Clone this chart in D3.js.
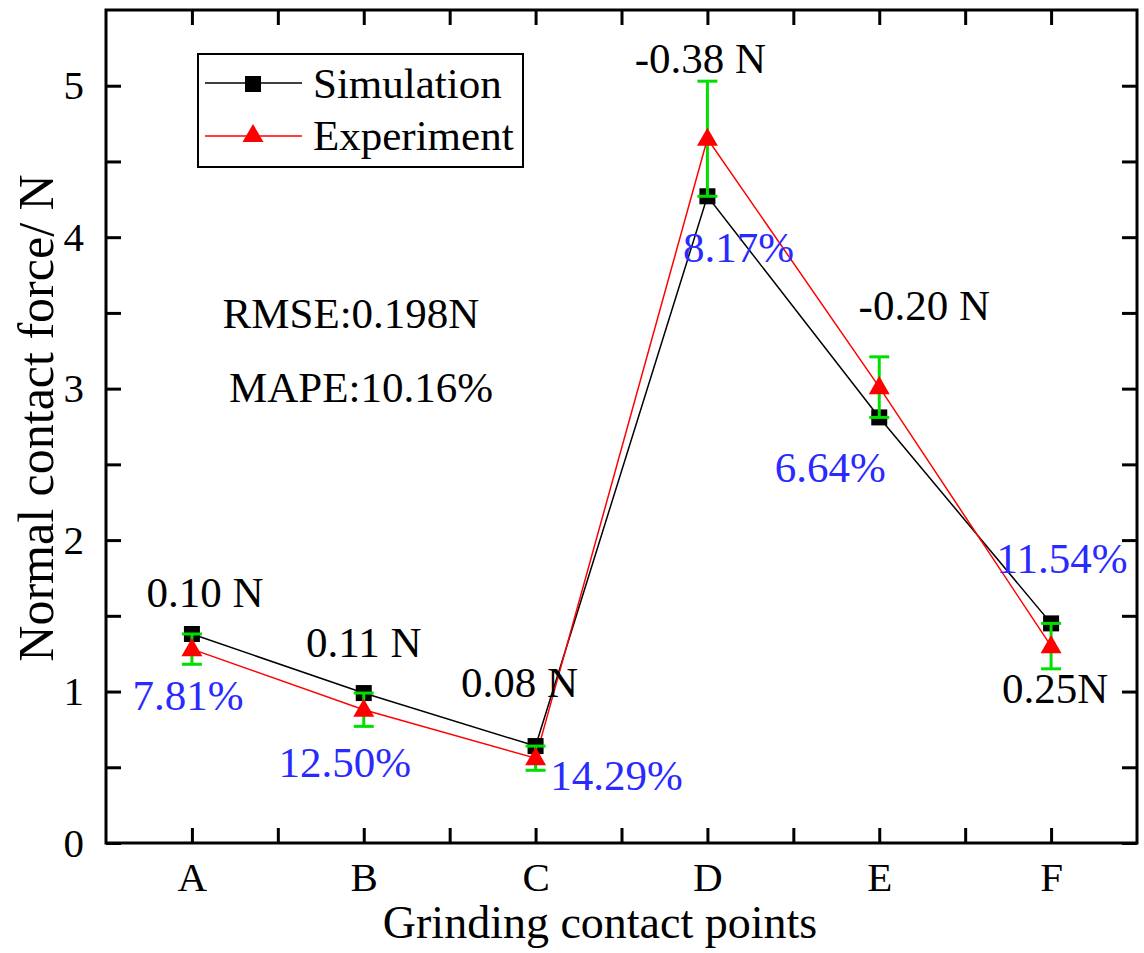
<!DOCTYPE html>
<html>
<head>
<meta charset="utf-8">
<script src="https://cdn.jsdelivr.net/npm/d3@7"></script>
<style>
  body { margin: 0; background: #fff; }
  svg text { font-family: "Liberation Serif", "Times New Roman", serif; }
</style>
</head>
<body>
<svg width="1144" height="953"></svg>
<script>
// data
let points = ["A", "B", "C", "D", "E", "F"];
let simulation = [1.38, 0.99, 0.64, 4.27, 2.81, 1.45];
let experiment = [1.28, 0.88, 0.56, 4.65, 3.01, 1.30];
let expError = [0.10, 0.11, 0.08, 0.38, 0.20, 0.15];
let diffLabels = ["0.10 N", "0.11 N", "0.08 N", "-0.38 N", "-0.20 N", "0.25N"];
let pctLabels = ["7.81%", "12.50%", "14.29%", "8.17%", "6.64%", "11.54%"];
let yTicks = [0, 1, 2, 3, 4, 5];
let yMinor = [0.5, 1.5, 2.5, 3.5, 4.5];

let plotL = 106, plotR = 1137, plotT = 10, plotB = 843;

let s = d3.select("svg");

let x = d3.scaleLinear().domain([-0.5, 5.5]).range([plotL, plotR]);
let y = d3.scaleLinear().domain([0, 5.5]).range([plotB, plotT]);

let xMajor = d3.range(points.length);
let xMinor = d3.range(points.length - 1).map(d => d + 0.5);

// axes, ticks point inward
let styleAxis = (g) => {
    g.select(".domain").remove();
    g.selectAll("line").attr("stroke", "#000").attr("stroke-width", 3);
    g.selectAll("text").attr("fill", "#000").style("font-size", "41px")
        .attr("font-family", null);
};

s.append("g").attr("transform", "translate(0," + plotB + ")")
    .call(d3.axisBottom(x).tickValues(xMajor.concat(xMinor)).tickSize(-15).tickPadding(19)
        .tickFormat(d => Number.isInteger(d) ? points[d] : ""))
    .call(styleAxis)
    .call(g => g.selectAll("text").attr("dy", "0.71em"));

s.append("g").attr("transform", "translate(0," + plotT + ")")
    .call(d3.axisTop(x).tickValues(xMajor.concat(xMinor)).tickSize(-15).tickFormat(""))
    .call(styleAxis);

s.append("g").attr("transform", "translate(" + plotL + ",0)")
    .call(d3.axisLeft(y).tickValues(yTicks.concat(yMinor)).tickSize(-15).tickPadding(22)
        .tickFormat(d => Number.isInteger(d) ? d : ""))
    .call(styleAxis);

s.append("g").attr("transform", "translate(" + plotR + ",0)")
    .call(d3.axisRight(y).tickValues(yTicks.concat(yMinor)).tickSize(-15).tickFormat(""))
    .call(styleAxis);

// frame
s.append("rect")
    .attr("x", plotL).attr("y", plotT)
    .attr("width", plotR - plotL).attr("height", plotB - plotT)
    .attr("fill", "none").attr("stroke", "#000").attr("stroke-width", 3);

// axis titles
s.append("text")
    .attr("x", 600).attr("y", 938)
    .attr("text-anchor", "middle")
    .style("font-size", "46px")
    .text("Grinding contact points");

s.append("text")
    .attr("transform", "translate(53,418) rotate(-90)")
    .attr("text-anchor", "middle")
    .style("font-size", "50px")
    .text("Normal contact force/ N");

// lines
let line = d3.line().x((d, i) => x(i)).y(d => y(d));

s.append("path").datum(simulation)
    .attr("d", line).attr("fill", "none").attr("stroke", "#000").attr("stroke-width", 1.5);
s.append("path").datum(experiment)
    .attr("d", line).attr("fill", "none").attr("stroke", "#ff0000").attr("stroke-width", 1.5);

// simulation squares
s.selectAll(".sq").data(simulation).enter().append("rect")
    .attr("class", "sq")
    .attr("x", (d, i) => x(i) - 8).attr("y", d => y(d) - 8)
    .attr("width", 16).attr("height", 16)
    .attr("fill", "#000");

// error bars on experiment
let eb = s.selectAll(".eb").data(experiment).enter().append("g").attr("class", "eb");
eb.append("line")
    .attr("x1", (d, i) => x(i)).attr("x2", (d, i) => x(i))
    .attr("y1", (d, i) => y(d + expError[i])).attr("y2", (d, i) => y(d - expError[i]))
    .attr("stroke", "#00e000").attr("stroke-width", 3);
eb.append("line")
    .attr("x1", (d, i) => x(i) - 10).attr("x2", (d, i) => x(i) + 10)
    .attr("y1", (d, i) => y(d + expError[i])).attr("y2", (d, i) => y(d + expError[i]))
    .attr("stroke", "#00e000").attr("stroke-width", 3);
eb.append("line")
    .attr("x1", (d, i) => x(i) - 10).attr("x2", (d, i) => x(i) + 10)
    .attr("y1", (d, i) => y(d - expError[i])).attr("y2", (d, i) => y(d - expError[i]))
    .attr("stroke", "#00e000").attr("stroke-width", 3);

// experiment triangles
let tri = d3.symbol().type(d3.symbolTriangle).size(190);
s.selectAll(".tri").data(experiment).enter().append("path")
    .attr("class", "tri")
    .attr("d", tri)
    .attr("transform", (d, i) => "translate(" + x(i) + "," + (y(d) + 1) + ")")
    .attr("fill", "#ff0000");

// annotation labels, pixel offsets from each point
let diffPos = [[13, -27], [0, -36], [-16, -49], [-7, -123], [45, -97], [4, 80]];
let pctPos = [[-4, 61], [-19, 67], [81, 32], [31, 123], [-49, 95], [11, -73]];

s.selectAll(".diff").data(diffLabels).enter().append("text")
    .attr("class", "diff")
    .attr("x", (d, i) => x(i) + diffPos[i][0])
    .attr("y", (d, i) => y(simulation[i]) + diffPos[i][1])
    .attr("text-anchor", "middle")
    .style("font-size", "43px")
    .attr("fill", "#000")
    .text(d => d);

s.selectAll(".pct").data(pctLabels).enter().append("text")
    .attr("class", "pct")
    .attr("x", (d, i) => x(i) + pctPos[i][0])
    .attr("y", (d, i) => y(experiment[i]) + pctPos[i][1])
    .attr("text-anchor", "middle")
    .style("font-size", "43px")
    .attr("fill", "#2a2aff")
    .text(d => d);

// stats
s.append("text").attr("x", 351).attr("y", 328).attr("text-anchor", "middle")
    .style("font-size", "43px").text("RMSE:0.198N");
s.append("text").attr("x", 361).attr("y", 402).attr("text-anchor", "middle")
    .style("font-size", "43px").text("MAPE:10.16%");

// legend
let lg = s.append("g");
lg.append("rect").attr("x", 198).attr("y", 54).attr("width", 325).attr("height", 113)
    .attr("fill", "#fff").attr("stroke", "#000").attr("stroke-width", 2);
lg.append("line").attr("x1", 205).attr("x2", 302).attr("y1", 83).attr("y2", 83)
    .attr("stroke", "#000").attr("stroke-width", 1.5);
lg.append("rect").attr("x", 245).attr("y", 76).attr("width", 16).attr("height", 16).attr("fill", "#000");
lg.append("text").attr("x", 313).attr("y", 98).style("font-size", "43px").text("Simulation");
lg.append("line").attr("x1", 205).attr("x2", 302).attr("y1", 136).attr("y2", 136)
    .attr("stroke", "#ff0000").attr("stroke-width", 1.5);
lg.append("path").attr("d", tri).attr("transform", "translate(253,136)").attr("fill", "#ff0000");
lg.append("text").attr("x", 313).attr("y", 150).style("font-size", "43px").text("Experiment");
</script>
</body>
</html>
